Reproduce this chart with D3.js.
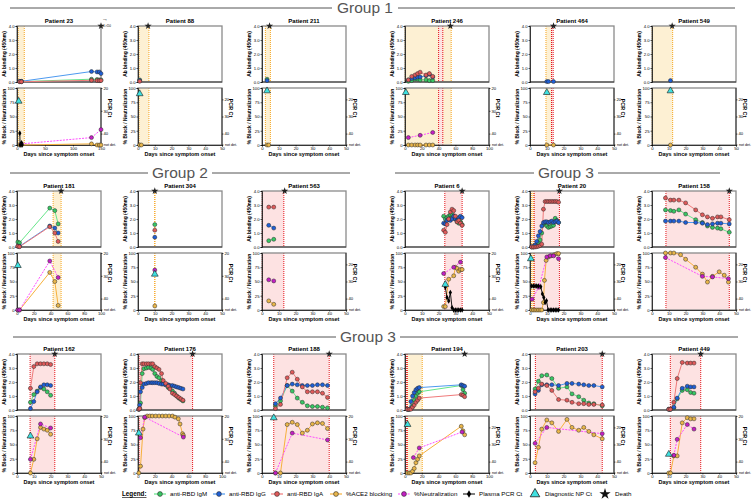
<!DOCTYPE html>
<html>
<head>
<meta charset="utf-8">
<script src="https://cdn.jsdelivr.net/npm/d3@7"></script>
<style>
body { margin: 0; background: #fff; }
svg text { font-family: Arial, "Liberation Sans", sans-serif; }
</style>
</head>
<body>
<div id="chart"></div>
<script>
// ---- data (days since onset, values) ----
const zip = (days, vals) => days.map((d, i) => [d, vals[i]]);

// Patient 23
const igm23 = [[5,0.03],[8,0.03],[133,0.2],[143,0.18],[147,0.15],[150,0.15]];
const igg23 = [[5,0.05],[8,0.05],[133,0.75],[143,0.72],[147,0.72],[150,0.6]];
const iga23 = [[5,0.02],[8,0.02],[133,0.12],[143,0.1],[147,0.1],[150,0.1]];
const ace23 = [[5,0],[8,0],[133,2],[143,0],[147,0],[150,0]];
const neu23 = [[8,2],[133,13],[150,27]];
const pcr23 = [[5,39.8],[5.5,"nd"],[8,44],[9,"nd"]];
const np23 = [[3,25.8]];
// Patient 88
const igm88 = [[1,0.15]], igg88 = [[1,0.1]], iga88 = [[1,0.05]];
const ace88 = [[1,0],[2,0]], np88 = [[1,16.7]];
// Patient 211
const igm211 = [[3,0.2]], igg211 = [[3,0.1]];
const ace211 = [[3,0],[4,0]], np211 = [[3,15]];
// Patient 246
const days246 = [4,8,12,15,18,25,29,33];
const igm246 = [0.05,0.1,0.2,0.2,0.15,0.15,0.1,0.1];
const igg246 = [0.15,0.25,0.3,0.35,0.35,0.45,0.55,0.35];
const iga246 = [0.15,0.4,0.5,0.6,0.7,0.5,0.6,0.4];
const ace246 = [0,0,0,0,0,0,0,0];
const neu246 = [[4,13],[18,17],[33,22]];
const np246 = [[1,22]];
// Patient 464
const igg464 = [[10,0.03],[11,0.03],[14,0.03]];
const ace464 = [[10,0],[14,0]], np464 = [[10,16]];
// Patient 549
const igg549 = [[11,0.1]], ace549 = [[11,0]], np549 = [[11,15]];
// Patient 181
const days181 = [1,3,39,45,49];
const igm181 = [0.35,0.3,2.78,2.6,1.65];
const igg181 = [0.05,0.05,1.5,1.35,1.0];
const iga181 = [0.05,0.02,1.45,1.0,0.4];
const ace181 = [0,0,66,50,8];
const neu181 = [[1,0],[3,0],[39,86],[49,57]];
const np181 = [[1,25.5]];
// Patient 304
const igm304 = [[10,1.6]], igg304 = [[10,0.7]], iga304 = [[10,1.2]];
const ace304 = [[10,7]], neu304 = [[10,70]], np304 = [[10,29.3]];
// Patient 563
const igm563 = [[4,0.45],[7,0.55]], igg563 = [[4,1.55],[7,1.35]], iga563 = [[4,2.85],[7,2.85]];
const ace563 = [[4,16],[7,10]], neu563 = [[4,53],[7,51]];
// Patient 6
const days6 = [23,24,25,26,27,28,29,30,31,32,33,34];
const igm6 = [2.2,2.0,2.1,2.2,2.3,2.3,2.2,2.0,1.8,1.7,1.8,1.6];
const igg6 = [1.7,1.65,1.9,2.0,1.9,2.0,2.2,2.0,1.9,2.1,2.2,2.1];
const iga6 = [1.2,1.05,1.6,2.0,2.5,2.7,2.6,2.2,1.8,1.9,1.7,1.55];
const ace6 = [[23,6],[24,6],[26,54],[29,60],[30,75],[31,73],[32,68],[33,71],[34,71]];
const neu6 = [[23,64],[29,75],[33,84]];
const pcr6 = [[24,35],[25,39.5],[26,41],[27,37.3],[28,44],[29,"nd"],[30,"nd"],[31,"nd"],[32,"nd"],[33,"nd"],[34,"nd"]];
const np6 = [[24,33.8]];
// Patient 20
const days20 = [1,2,3,4,5,6,7,8,9,10,11,12,13,14,15,16,17];
const igm20 = [0,0,0.05,0.15,0.3,0.5,1.0,1.6,1.75,1.5,1.4,1.45,1.5,1.55,2.05,1.9,1.75];
const igg20 = [0.02,0.02,0.15,0.4,0.8,1.1,1.5,1.75,1.8,1.8,1.75,1.8,1.85,1.75,1.8,1.85,1.75];
const iga20 = [0,0,0,0.02,0.05,0.1,0.2,2.7,3.25,3.25,3.25,3.25,3.25,3.25,3.25,3.25,3.2];
const ace20 = [[1,0],[2,0],[3,0],[4,0],[5,0],[6,0],[7,0],[8,13],[8.6,52],[9.6,87],[11,93],[12.5,95],[14.5,97],[16,99],[17,99]];
const neu20 = [[1.2,19],[5.3,40],[10,93],[12,95],[14,95],[17,90]];
const pcr20 = [[1,32.6],[2,32.6],[3,32.6],[4,32.6],[5,32.6],[6.4,33],[7.4,37.3],[8.2,39.3],[9,42.3],[9.8,41.3],[10.8,"nd"],[12,"nd"],[13,"nd"],[14,"nd"],[15,"nd"],[16,"nd"],[17,"nd"]];
const np20 = [[0.5,16.7]];
// Patient 158
const days158 = [8,11,13,16,20,26,30,33,36,39,41,46];
const igm158 = [2.65,2.6,2.55,2.65,2.35,1.95,1.75,1.5,1.4,1.35,1.3,1.05];
const igg158 = [1.85,1.85,1.85,1.85,1.75,1.75,1.7,1.6,1.65,1.7,1.7,1.65];
const iga158 = [3.5,3.35,3.35,3.35,3.15,2.65,2.3,2.15,2.05,2.15,2.15,1.95];
const ace158 = [[8,100],[11,100],[13,100],[17,97],[20,89],[26,75],[30,63],[33,49],[36,59],[40,67],[43,61],[45.5,49]];
const neu158 = [[8,92],[30,59],[36,58],[45.5,55]];
// Patient 162
const days162 = [8,10,12,14,16,18,20];
const igm162 = [0.55,1.1,1.35,1.6,1.5,1.3,1.05];
const igg162 = [0.1,0.6,1.3,1.65,1.8,1.8,1.75];
const iga162 = [1.55,3.1,3.3,3.3,3.3,3.3,3.25];
const ace162 = [0,24,60,80,77,75,68];
const neu162 = [[8,24],[14,86],[20,79]];
const np162 = [[8,28.8]];
// Patient 176
const days176 = [1,2,3,5,7,10,12.5,15.5,17.5,20,22.5,25,28,30,33,36,38,41,43.5,46,48.5,51,53.5];
const igm176 = [0.05,0.1,0.5,2.6,2.95,3.0,3.05,3.0,2.9,2.6,2.4,2.3,2.1,1.95,1.8,1.6,1.55,1.35,1.2,1.0,0.85,0.75,0.65];
const igg176 = [0.05,0.35,1.3,1.6,1.85,1.9,1.95,1.95,1.95,1.95,1.95,1.9,1.85,1.85,1.8,1.8,1.75,1.75,1.7,1.65,1.6,1.55,1.5];
const iga176 = [0.05,0.1,1.95,3.3,3.3,3.3,3.3,3.3,3.3,3.1,3.0,2.9,2.6,2.1,1.9,1.7,1.5,1.2,1.1,1.0,0.9,0.8,0.7];
const ace176 = [[1,0],[3,12],[6,77],[8,97],[11,100],[14,100],[17,100],[21,100],[25,100],[29,100],[33,100],[37,100],[41,100],[44,98],[48,95],[50,86],[53,69],[54,66]];
const neu176 = [[3,62],[8,98],[54,63]];
const np176 = [[1,27.5]];
// Patient 188
const days188 = [8,11,15,18,21,24,27,30,33,36,39];
const igm188 = [0.3,0.65,1.75,1.35,0.85,0.55,0.3,0.25,0.25,0.2,0.15];
const igg188 = [0.45,0.85,1.75,1.85,1.8,1.75,1.75,1.75,1.8,1.8,1.75];
const iga188 = [0.1,0.4,2.3,2.7,2.2,1.65,1.3,1.3,1.3,1.2,0.9];
const ace188 = [0,0,85,89,85,70,75,86,88,87,78];
const neu188 = [[8,0],[18,70],[39,58]];
const np188 = [[7,20.8]];
// Patient 194
const days194 = [3,5,7,9,11,13,15,17,67,69,71];
const igm194 = [0.05,0.05,0.1,0.3,0.7,1.0,1.2,1.3,1.75,1.45,1.2];
const igg194 = [0.05,0.05,0.6,1.0,1.25,1.45,1.55,1.6,1.8,1.75,1.7];
const iga194 = [0.05,0.05,0.05,0.2,0.35,0.55,0.7,0.85,1.1,1.05,0.95];
const ace194 = [0,0,0,3,8,18,24,30,82,74,67];
const neu194 = [[10,27],[17,44],[68,72]];
const np194 = [[3,18.3]];
// Patient 203
const days203 = [3,5,7,10,13,17,22,25,29,32,35,38,43];
const igm203 = [1.5,2.05,2.45,2.5,2.25,1.55,1.65,1.15,0.95,0.7,0.5,0.45,0.3];
const igg203 = [1.15,1.4,1.8,1.8,1.8,1.75,1.9,1.9,1.85,1.8,1.75,1.75,1.65];
const iga203 = [1.3,1.55,1.85,1.75,1.4,0.75,0.7,0.55,0.45,0.45,0.4,0.4,0.35];
const ace203 = [18,45,77,93,88,73,94,80,75,80,73,67,60];
const neu203 = [[3,52],[10,80],[43,69]];
// Patient 449
const days449 = [10,11,13,15,18,21,23,25];
const igm449 = [0.05,0.05,0.15,0.8,1.4,1.45,1.25,1.2];
const igg449 = [0.05,0.05,0.2,0.85,1.55,1.7,1.65,1.65];
const iga449 = [0.05,0.05,0.55,2.25,3.4,3.35,3.35,3.35];
const ace449 = [[10,0],[11,0],[13,30],[15,30],[18,88],[21,97],[23,95],[25,95]];
const neu449 = [[13,31],[15,59],[21,85],[25,77]];
const np449 = [[10,36.8]];

const legendLabels = ["anti-RBD IgM","anti-RBD IgG","anti-RBD IgA","%ACE2 blocking","%Neutralization","Plasma PCR Ct","Diagnostic NP Ct","Death"];

// ct: "A" -> 20 at top, "B" -> 20 at ~80%
const rows = [
  [
    {name:"Patient 23", xmax:150, ct:"A", bands:[["y",2,13]], star:150, igm:igm23, igg:igg23, iga:iga23, ace:ace23, neu:neu23, pcr:pcr23, np:np23},
    {name:"Patient 88", xmax:50, ct:"B", bands:[["y",0.6,6.5]], star:6, igm:igm88, igg:igg88, iga:iga88, ace:ace88, np:np88},
    {name:"Patient 211", xmax:50, ct:"B", bands:[["y",2,5]], star:4.5, igm:igm211, igg:igg211, ace:ace211, np:np211},
    {name:"Patient 246", xmax:100, ct:"A", bands:[["y",0,55],["r",40,45]], star:54, igm:zip(days246,igm246), igg:zip(days246,igg246), iga:zip(days246,iga246), ace:zip(days246,ace246), neu:neu246, np:np246},
    {name:"Patient 464", xmax:50, ct:"B", bands:[["y",9.5,12.8],["r",12.8,13.8]], star:14, igg:igg464, ace:ace464, np:np464},
    {name:"Patient 549", xmax:50, ct:"B", bands:[["y",0,12.3]], star:12, igg:igg549, ace:ace549, np:np549}
  ],
  [
    {name:"Patient 181", xmax:100, ct:"A", bands:[["y",43,52.5]], star:52.5, igm:zip(days181,igm181), igg:zip(days181,igg181), iga:zip(days181,iga181), ace:zip(days181,ace181), neu:neu181, np:np181},
    {name:"Patient 304", xmax:50, ct:"A", bands:[["y",10,10]], star:10, igm:igm304, igg:igg304, iga:iga304, ace:ace304, neu:neu304, np:np304},
    {name:"Patient 563", xmax:50, ct:"B", bands:[["r",0,13]], star:13.5, igm:igm563, igg:igg563, iga:iga563, ace:ace563, neu:neu563},
    {name:"Patient 6", xmax:50, ct:"A", bands:[["r",23.7,34]], star:34, igm:zip(days6,igm6), igg:zip(days6,igg6), iga:zip(days6,iga6), ace:ace6, neu:neu6, pcr:pcr6, np:np6},
    {name:"Patient 20", xmax:50, ct:"B", bands:[["y",1,2],["r",2.5,17.5]], star:17.5, igm:zip(days20,igm20), igg:zip(days20,igg20), iga:zip(days20,iga20), ace:ace20, neu:neu20, pcr:pcr20, np:np20},
    {name:"Patient 158", xmax:50, ct:"B", bands:[["r",8.3,46]], star:46, igm:zip(days158,igm158), igg:zip(days158,igg158), iga:zip(days158,iga158), ace:ace158, neu:neu158}
  ],
  [
    {name:"Patient 162", xmax:50, ct:"A", bands:[["r",7.8,22.5]], star:22.5, igm:zip(days162,igm162), igg:zip(days162,igg162), iga:zip(days162,iga162), ace:zip(days162,ace162), neu:neu162, np:np162},
    {name:"Patient 176", xmax:100, ct:"A", bands:[["r",1.2,65]], star:65, igm:zip(days176,igm176), igg:zip(days176,igg176), iga:zip(days176,iga176), ace:ace176, neu:neu176, np:np176},
    {name:"Patient 188", xmax:50, ct:"A", bands:[["r",7,40]], star:40, igm:zip(days188,igm188), igg:zip(days188,igg188), iga:zip(days188,iga188), ace:zip(days188,ace188), neu:neu188, np:np188},
    {name:"Patient 194", xmax:100, ct:"B", bands:[["y",3,20.5],["r",2,2.6]], star:71, igm:zip(days194,igm194), igg:zip(days194,igg194), iga:zip(days194,iga194), ace:zip(days194,ace194), neu:neu194, np:np194},
    {name:"Patient 203", xmax:50, ct:"B", bands:[["r",3.2,43]], star:43, igm:zip(days203,igm203), igg:zip(days203,igg203), iga:zip(days203,iga203), ace:zip(days203,ace203), neu:neu203},
    {name:"Patient 449", xmax:50, ct:"A", bands:[["r",10.9,29]], star:29, igm:zip(days449,igm449), igg:zip(days449,igg449), iga:zip(days449,iga449), ace:ace449, neu:neu449, np:np449}
  ]
];

const groups = [
  {text:"Group 1", x:365, y:8, segs:[[10,332],[398,735]]},
  {text:"Group 2", x:180, y:173, segs:[[10,148],[212,350]]},
  {text:"Group 3", x:566, y:173, segs:[[395,534],[598,720]]},
  {text:"Group 3", x:368, y:337, segs:[[13,336],[400,738]]}
];

// ---- layout ----
const W = 755, H = 504;
const colLeft = [17, 138, 262, 405, 530, 652];
const rowTitleY = [21, 186, 349];
const pw = 84, topH = 56, botH = 57;

const col = {
  igm: {fill:"#38c764", line:"#66e58a"},
  igg: {fill:"#1f5fd6", line:"#4d9af0"},
  iga: {fill:"#e05a5a", line:"#f07a7a"},
  ace: {fill:"#e9b64a", line:"#f7b13c"},
  neu: {fill:"#c41fc4", line:"#ff4dff"}
};

const svg = d3.select("#chart").append("svg")
  .attr("width", W).attr("height", H);

// group headers
groups.forEach(gr => {
  gr.segs.forEach(s => {
    svg.append("line").attr("x1", s[0]).attr("x2", s[1])
      .attr("y1", gr.y).attr("y2", gr.y)
      .attr("stroke", "#555").attr("stroke-width", 1);
  });
  svg.append("text").attr("x", gr.x).attr("y", gr.y).attr("dy", "0.35em")
    .attr("text-anchor", "middle").attr("font-size", 15.5)
    .attr("fill", "#555").text(gr.text);
});

function styleAxis(g, size) {
  g.attr("font-size", size);
  g.selectAll("path.domain").attr("stroke", "#000").attr("stroke-width", 0.7);
  g.selectAll(".tick line").attr("stroke", "#000").attr("stroke-width", 0.6);
  g.selectAll(".tick text").attr("fill", "#000");
}

function drawPanel(p, r, c) {
  const x0 = colLeft[c], ty = rowTitleY[r];
  const topY = ty + 5, botY = ty + 67;
  const g = svg.append("g");

  const x = d3.scaleLinear().domain([0, p.xmax]).range([x0, x0 + pw]);
  const yTop = d3.scaleLinear().domain([0, 4]).range([topY + topH, topY]);
  const yBot = d3.scaleLinear().domain([0, 100]).range([botY + botH, botY]);
  const ct = d3.scaleLinear().domain(p.ct === "A" ? [45, 20] : [46.67, 13.33]).range([botY + botH, botY]);
  const ctY = v => v === "nd" ? botY + botH : ct(v);

  // shaded windows
  p.bands.forEach(b => {
    const fill = b[0] === "y" ? "#fdf0d3" : "#fde2e2";
    const edge = b[0] === "y" ? "#f5a623" : "#e4141b";
    [[topY, topH], [botY, botH]].forEach(([yy, hh]) => {
      g.append("rect").attr("x", x(b[1])).attr("y", yy)
        .attr("width", x(b[2]) - x(b[1])).attr("height", hh).attr("fill", fill);
      [b[1], b[2]].forEach(d => {
        g.append("line").attr("x1", x(d)).attr("x2", x(d))
          .attr("y1", yy).attr("y2", yy + hh)
          .attr("stroke", edge).attr("stroke-width", 1)
          .attr("stroke-dasharray", "1,1");
      });
    });
  });

  // frames
  [[topY, topH], [botY, botH]].forEach(([yy, hh]) => {
    g.append("rect").attr("x", x0).attr("y", yy).attr("width", pw).attr("height", hh)
      .attr("fill", "none").attr("stroke", "#8a8a8a").attr("stroke-width", 1.3);
  });

  // title
  g.append("text").attr("x", x0 + pw / 2).attr("y", ty).attr("dy", "0.35em")
    .attr("text-anchor", "middle").attr("font-size", 6).attr("font-weight", "bold")
    .text(p.name);

  // axes
  const axT = g.append("g").attr("transform", `translate(${x0},0)`)
    .call(d3.axisLeft(yTop).tickValues([0, 1, 2, 3, 4]).tickSize(1.5).tickPadding(1));
  styleAxis(axT, 4.2);
  g.append("line").attr("x1", x0).attr("x2", x0 + pw)
    .attr("y1", topY + topH).attr("y2", topY + topH).attr("stroke", "#000").attr("stroke-width", 0.7);

  const axB = g.append("g").attr("transform", `translate(${x0},0)`)
    .call(d3.axisLeft(yBot).tickValues([0, 25, 50, 75, 100]).tickSize(1.5).tickPadding(1));
  styleAxis(axB, 4.2);

  const axR = g.append("g").attr("transform", `translate(${x0 + pw},0)`)
    .call(d3.axisRight(ct).tickValues([20, 30, 40]).tickSize(1.5).tickPadding(1));
  styleAxis(axR, 4.2);
  axR.select("path.domain").attr("d", `M0,${botY}V${botY + botH}`);
  g.append("line").attr("x1", x0 + pw).attr("x2", x0 + pw + 1.5)
    .attr("y1", botY + botH).attr("y2", botY + botH).attr("stroke", "#000").attr("stroke-width", 0.6);
  g.append("text").attr("x", x0 + pw + 3).attr("y", botY + botH).attr("dy", "0.35em")
    .attr("font-size", 3.6).text("not det.");

  const xt = p.xmax === 150 ? [0, 50, 100, 150] : d3.range(0, p.xmax + 1, p.xmax / 5);
  const axX = g.append("g").attr("transform", `translate(0,${botY + botH})`)
    .call(d3.axisBottom(x).tickValues(xt).tickSize(1.5).tickPadding(1));
  styleAxis(axX, 4.2);

  // axis titles
  g.append("text").attr("transform", `translate(${x0 - 11},${topY + topH / 2}) rotate(-90)`)
    .attr("text-anchor", "middle").attr("font-size", 4.9).attr("font-weight", "bold")
    .text("Ab binding (450nm)");
  g.append("text").attr("transform", `translate(${x0 - 11},${botY + botH / 2}) rotate(-90)`)
    .attr("text-anchor", "middle").attr("font-size", 4.9).attr("font-weight", "bold")
    .text("% Block / Neutralization");
  g.append("text").attr("transform", `translate(${x0 + pw + 7},${botY + 20}) rotate(90)`)
    .attr("text-anchor", "middle").attr("font-size", 5.4).attr("font-weight", "bold")
    .text("PCR Ct");
  g.append("text").attr("x", x0 + pw / 2).attr("y", botY + botH + 11)
    .attr("text-anchor", "middle").attr("font-size", 5.5).attr("font-weight", "bold")
    .text("Days since symptom onset");

  // lines
  const lineTop = d3.line().x(d => x(d[0])).y(d => yTop(d[1]));
  const lineBot = d3.line().x(d => x(d[0])).y(d => yBot(d[1]));
  const lineCt = d3.line().x(d => x(d[0])).y(d => ctY(d[1]));

  ["igm", "igg", "iga"].forEach(k => {
    if (p[k] && p[k].length > 1)
      g.append("path").attr("d", lineTop(p[k])).attr("fill", "none")
        .attr("stroke", col[k].line).attr("stroke-width", 1);
  });
  if (p.ace && p.ace.length > 1)
    g.append("path").attr("d", lineBot(p.ace)).attr("fill", "none")
      .attr("stroke", col.ace.line).attr("stroke-width", 1);
  if (p.neu && p.neu.length > 1)
    g.append("path").attr("d", lineBot(p.neu)).attr("fill", "none")
      .attr("stroke", col.neu.line).attr("stroke-width", 1).attr("stroke-dasharray", "2,1.2");
  if (p.pcr)
    g.append("path").attr("d", lineCt(p.pcr)).attr("fill", "none")
      .attr("stroke", "#000").attr("stroke-width", 0.9);

  // points
  ["igm", "igg", "iga"].forEach(k => {
    if (!p[k]) return;
    g.selectAll(null).data(p[k]).enter().append("circle")
      .attr("cx", d => x(d[0])).attr("cy", d => yTop(d[1])).attr("r", 2)
      .attr("fill", col[k].fill).attr("stroke", "#2a2a2a").attr("stroke-width", 0.5);
  });
  ["ace", "neu"].forEach(k => {
    if (!p[k]) return;
    g.selectAll(null).data(p[k]).enter().append("circle")
      .attr("cx", d => x(d[0])).attr("cy", d => yBot(d[1])).attr("r", 2)
      .attr("fill", col[k].fill).attr("stroke", "#2a2a2a").attr("stroke-width", 0.5);
  });
  if (p.pcr)
    g.selectAll(null).data(p.pcr).enter().append("path")
      .attr("transform", d => `translate(${x(d[0])},${ctY(d[1])})`)
      .attr("d", d3.symbol().type(d3.symbolDiamond).size(9)).attr("fill", "#000");
  if (p.np)
    g.selectAll(null).data(p.np).enter().append("path")
      .attr("transform", d => `translate(${x(d[0])},${ctY(d[1])})`)
      .attr("d", d3.symbol().type(d3.symbolTriangle).size(20))
      .attr("fill", "#3fe0e0").attr("stroke", "#1a1a1a").attr("stroke-width", 0.6);

  // death
  g.append("path").attr("transform", `translate(${x(p.star)},${topY})`)
    .attr("d", d3.symbol().type(d3.symbolStar).size(16)).attr("fill", "#222");
  if (p.xmax === 150) {
    g.append("text").attr("x", x(p.star) + 1).attr("y", topY - 5)
      .attr("font-size", 6).text("\u2192");
    g.append("text").attr("x", x(p.star) + 2).attr("y", topY + 1)
      .attr("font-size", 2.6).text("d.>150");
  }
}

rows.forEach((row, r) => row.forEach((p, c) => drawPanel(p, r, c)));

// ---- legend ----
const ly = 494;
const legendX = [160, 219, 277, 336, 404, 469, 535, 605];
const lg = svg.append("g");
lg.append("text").attr("x", 122).attr("y", ly).attr("dy", "0.35em")
  .attr("font-size", 6.3).attr("font-weight", "bold")
  .attr("text-decoration", "underline").text("Legend:");
const legendKeys = ["igm", "igg", "iga", "ace", "neu"];
legendLabels.forEach((lab, i) => {
  const cx = legendX[i];
  if (i < 5) {
    const k = legendKeys[i];
    lg.append("line").attr("x1", cx - 6).attr("x2", cx + 6).attr("y1", ly).attr("y2", ly)
      .attr("stroke", col[k].line).attr("stroke-width", 1.2)
      .attr("stroke-dasharray", k === "neu" ? "2,1.2" : null);
    lg.append("circle").attr("cx", cx).attr("cy", ly).attr("r", 2.4)
      .attr("fill", col[k].fill).attr("stroke", "#2a2a2a").attr("stroke-width", 0.6);
  } else if (i === 5) {
    lg.append("line").attr("x1", cx - 6).attr("x2", cx + 6).attr("y1", ly).attr("y2", ly)
      .attr("stroke", "#000").attr("stroke-width", 1);
    lg.append("path").attr("transform", `translate(${cx},${ly})`)
      .attr("d", d3.symbol().type(d3.symbolDiamond).size(16)).attr("fill", "#000");
  } else if (i === 6) {
    lg.append("path").attr("transform", `translate(${cx},${ly})`)
      .attr("d", d3.symbol().type(d3.symbolTriangle).size(40))
      .attr("fill", "#3fe0e0").attr("stroke", "#1a1a1a").attr("stroke-width", 0.8);
  } else {
    lg.append("path").attr("transform", `translate(${cx},${ly})`)
      .attr("d", d3.symbol().type(d3.symbolStar).size(40)).attr("fill", "#111");
  }
  lg.append("text").attr("x", cx + 10).attr("y", ly).attr("dy", "0.35em")
    .attr("font-size", 6.2).text(lab);
});
</script>
</body>
</html>
